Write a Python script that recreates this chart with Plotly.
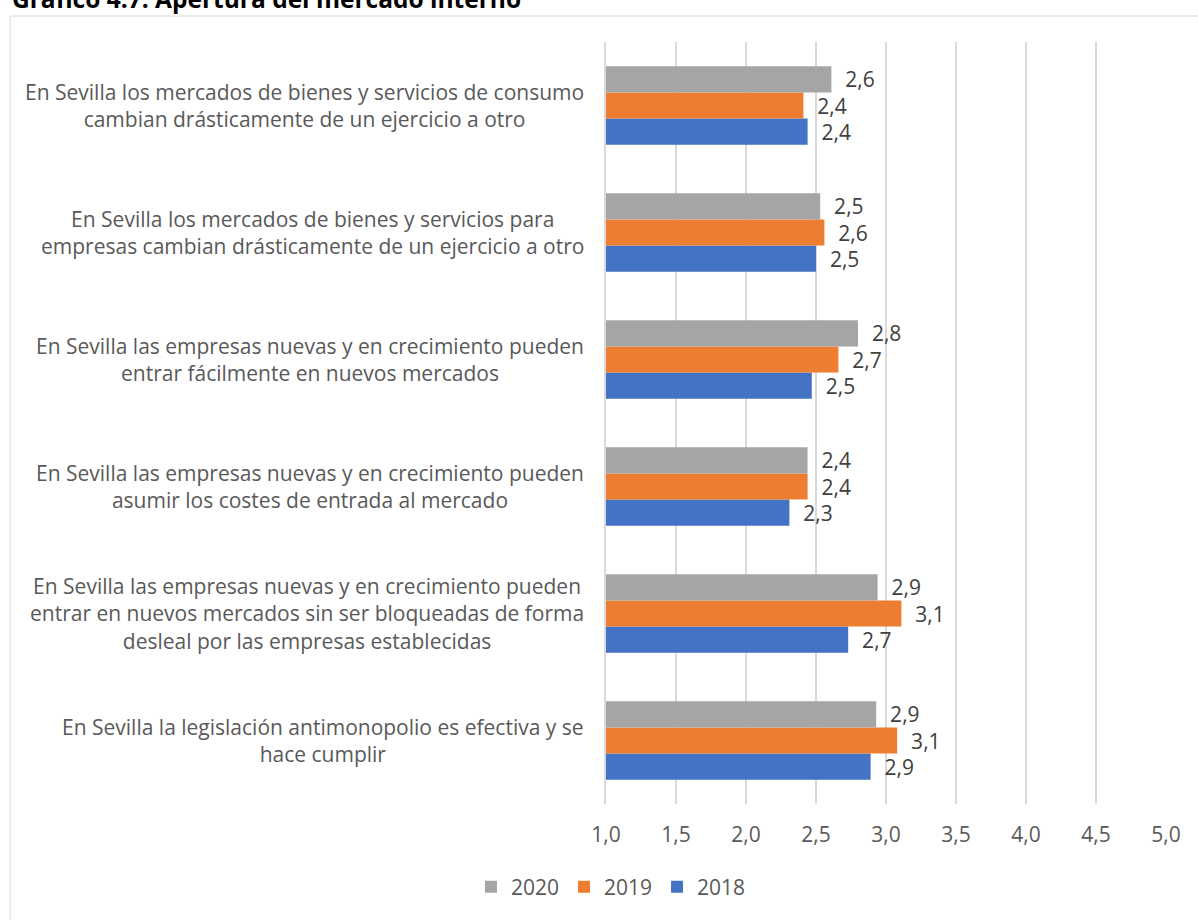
import plotly.graph_objects as go

# Survey statements, listed top to bottom
categories = [
    "En Sevilla los mercados de bienes y servicios de consumo<br>cambian drásticamente de un ejercicio a otro",
    "En Sevilla los mercados de bienes y servicios para<br>empresas cambian drásticamente de un ejercicio a otro",
    "En Sevilla las empresas nuevas y en crecimiento pueden<br>entrar fácilmente en nuevos mercados",
    "En Sevilla las empresas nuevas y en crecimiento pueden<br>asumir los costes de entrada al mercado",
    "En Sevilla las empresas nuevas y en crecimiento pueden<br>entrar en nuevos mercados sin ser bloqueadas de forma<br>desleal por las empresas establecidas",
    "En Sevilla la legislación antimonopolio es efectiva y se<br>hace cumplir",
]

values_2020 = [2.61, 2.53, 2.80, 2.44, 2.94, 2.93]
values_2019 = [2.41, 2.56, 2.66, 2.44, 3.11, 3.08]
values_2018 = [2.44, 2.50, 2.47, 2.31, 2.73, 2.89]

tick_values = [1.0, 1.5, 2.0, 2.5, 3.0, 3.5, 4.0, 4.5, 5.0]

FONT = "Open Sans"
TEXT = "#595959"
LABEL = "#404040"
GRID = "#d9d9d9"

series = [
    ("2018", values_2018, "#4472C4"),
    ("2019", values_2019, "#ED7D31"),
    ("2020", values_2020, "#A5A5A5"),
]

fig = go.Figure()
for name, vals, color in series:
    fig.add_trace(go.Bar(
        name=name,
        y=categories,
        x=vals,
        orientation="h",
        marker=dict(color=color, line=dict(width=0)),
        texttemplate="\u00a0\u00a0%{x:.1f}",
        textposition="outside",
        constraintext="none",
        cliponaxis=False,
        textfont=dict(family=FONT, size=21, color=LABEL),
        hoverinfo="skip",
    ))

# Category labels: block right-aligned next to the axis, lines centred
annotations = []
for cat in categories:
    annotations.append(dict(
        x=0, xref="paper", xanchor="right", xshift=-20,
        y=cat, yref="y", yanchor="middle",
        text=cat, align="center", showarrow=False,
        font=dict(family=FONT, size=21, color=TEXT),
    ))

annotations.append(dict(
    x=-1.064, xref="paper", xanchor="left",
    y=1.0328, yref="paper", yanchor="bottom",
    text="<b>Gráfico 4.7: Apertura del mercado interno</b>",
    showarrow=False,
    font=dict(family=FONT, size=24.5, color="#000000"),
))

fig.update_layout(
    width=1198, height=920,
    margin=dict(l=606, r=32, t=42, b=116),
    paper_bgcolor="white",
    plot_bgcolor="white",
    barmode="group",
    bargap=0.38,
    bargroupgap=0,
    separators=", ",
    font=dict(family=FONT, size=21, color=TEXT),
    showlegend=True,
    legend=dict(
        orientation="h",
        traceorder="reversed",
        xref="container", x=0.51, xanchor="center",
        yref="container", y=1 - 887 / 920, yanchor="middle",
        font=dict(family=FONT, size=21, color=TEXT),
        itemwidth=30,
    ),
    xaxis=dict(
        range=[1, 5],
        tickmode="array",
        tickvals=tick_values,
        tickformat=".1f",
        showgrid=True,
        gridcolor=GRID,
        gridwidth=1.5,
        zeroline=False,
        showline=False,
        ticks="",
        ticklabelstandoff=16,
        tickfont=dict(family=FONT, size=21, color=TEXT),
        fixedrange=True,
    ),
    yaxis=dict(
        categoryorder="array",
        categoryarray=list(reversed(categories)),
        showticklabels=False,
        showgrid=False,
        zeroline=False,
        showline=True,
        linecolor=GRID,
        linewidth=1.5,
        ticks="",
        fixedrange=True,
    ),
    annotations=annotations,
    shapes=[dict(
        type="rect", xref="paper", yref="paper",
        x0=-1.064, x1=1.2, y0=-0.3, y1=1.0341,
        line=dict(color=GRID, width=1),
        fillcolor="rgba(0,0,0,0)",
        layer="below",
    )],
)

fig.write_html("out.html")
